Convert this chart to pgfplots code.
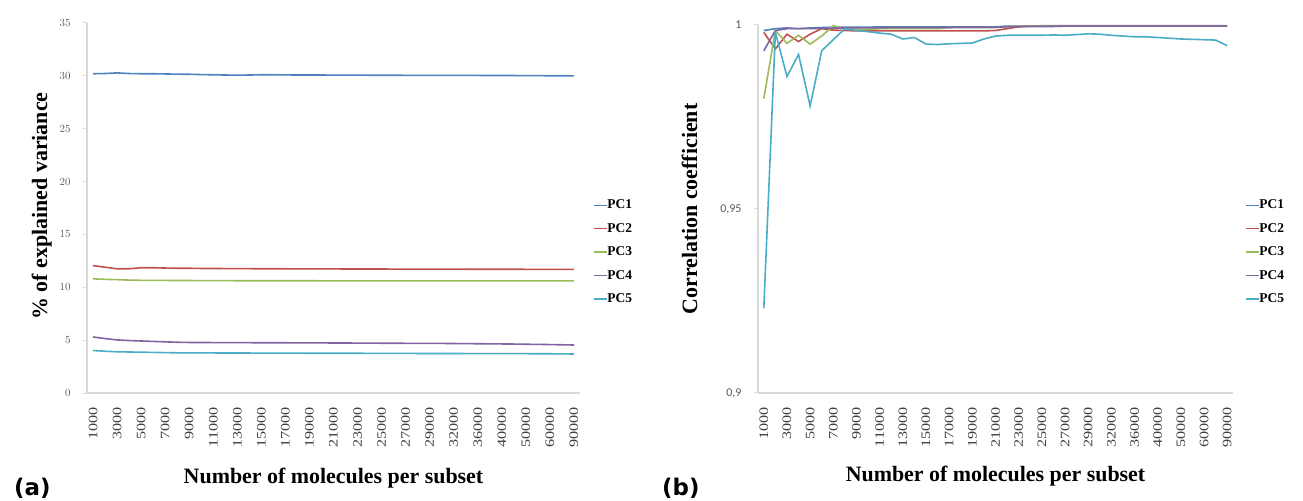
\documentclass[border=0pt]{standalone}
\usepackage{fontspec}
\setmainfont{Liberation Serif}
\newfontfamily\carlito{Carlito}
\newfontfamily\dejavu{DejaVu Sans}
\usepackage{graphicx}
\usepackage{pgfplots}
\usepackage{pgfplotstable}
\pgfplotsset{compat=1.18}

\definecolor{c1}{HTML}{4F81BD}
\definecolor{c2}{HTML}{C0504D}
\definecolor{c3}{HTML}{9BBB59}
\definecolor{c4}{HTML}{8064A2}
\definecolor{c5}{HTML}{4BACC6}
\definecolor{axgray}{HTML}{D9D9D9}
\definecolor{tkgray}{HTML}{595959}
\definecolor{xkgray}{HTML}{404040}

\newcommand{\xl}[1]{\scalebox{1.25}[1]{#1}}

% explained variance (%)
\pgfplotstableread{
i pc1 pc2 pc3 pc4 pc5
0 30.20 12.05 10.80 5.30 4.02
1 30.22 11.90 10.75 5.15 3.95
2 30.28 11.75 10.72 5.02 3.90
3 30.22 11.75 10.68 4.96 3.88
4 30.20 11.85 10.66 4.92 3.86
5 30.20 11.85 10.65 4.88 3.84
6 30.18 11.82 10.65 4.84 3.82
7 30.16 11.80 10.64 4.80 3.80
8 30.15 11.80 10.64 4.78 3.80
9 30.12 11.78 10.63 4.78 3.79
10 30.10 11.78 10.63 4.77 3.79
11 30.08 11.77 10.63 4.77 3.78
12 30.06 11.76 10.62 4.76 3.78
13 30.08 11.76 10.62 4.76 3.78
14 30.10 11.75 10.62 4.75 3.77
15 30.10 11.75 10.62 4.75 3.77
16 30.09 11.75 10.62 4.75 3.77
17 30.08 11.74 10.62 4.74 3.77
18 30.08 11.74 10.62 4.74 3.76
19 30.08 11.74 10.61 4.74 3.76
20 30.07 11.74 10.61 4.73 3.76
21 30.07 11.73 10.61 4.73 3.76
22 30.07 11.73 10.61 4.72 3.76
23 30.06 11.73 10.61 4.72 3.75
24 30.06 11.73 10.61 4.71 3.75
25 30.06 11.72 10.61 4.71 3.75
26 30.05 11.72 10.61 4.70 3.75
27 30.05 11.72 10.61 4.70 3.74
28 30.05 11.72 10.61 4.69 3.74
29 30.05 11.72 10.61 4.69 3.74
30 30.04 11.72 10.60 4.68 3.74
31 30.04 11.71 10.60 4.67 3.73
32 30.04 11.71 10.60 4.66 3.73
33 30.03 11.71 10.60 4.65 3.73
34 30.03 11.71 10.60 4.64 3.72
35 30.03 11.71 10.60 4.63 3.72
36 30.02 11.70 10.60 4.61 3.72
37 30.02 11.70 10.60 4.60 3.71
38 30.01 11.70 10.60 4.58 3.71
39 30.01 11.70 10.60 4.56 3.70
40 30.00 11.70 10.60 4.54 3.69
}\vartable

% correlation coefficient
\pgfplotstableread{
i pc1 pc2 pc3 pc4 pc5
0 0.9985 0.9980 0.9800 0.9930 0.9230
1 0.9990 0.9935 0.9985 0.9985 0.9980
2 0.9992 0.9975 0.9950 0.9990 0.9860
3 0.9990 0.9955 0.9972 0.9990 0.9920
4 0.9992 0.9975 0.9948 0.9990 0.9780
5 0.9993 0.9990 0.9970 0.9991 0.9930
6 0.9994 0.9986 0.9998 0.9991 0.9960
7 0.9994 0.9985 0.9990 0.9992 0.9990
8 0.9994 0.9984 0.9988 0.9992 0.9985
9 0.9994 0.9984 0.9988 0.9992 0.9982
10 0.9995 0.9984 0.9990 0.9992 0.9978
11 0.9995 0.9984 0.9990 0.9993 0.9975
12 0.9995 0.9984 0.9990 0.9993 0.9962
13 0.9995 0.9984 0.9990 0.9993 0.9966
14 0.9995 0.9984 0.9990 0.9993 0.9948
15 0.9995 0.9984 0.9990 0.9993 0.9947
16 0.9995 0.9984 0.9993 0.9993 0.9949
17 0.9995 0.9984 0.9993 0.9994 0.9950
18 0.9995 0.9984 0.9993 0.9994 0.9951
19 0.9995 0.9984 0.9993 0.9994 0.9962
20 0.9995 0.9985 0.9993 0.9994 0.9970
21 0.9997 0.9990 0.9996 0.9995 0.9972
22 0.9997 0.9995 0.9997 0.9996 0.9972
23 0.9997 0.9997 0.9997 0.9996 0.9972
24 0.9998 0.9997 0.9997 0.9996 0.9972
25 0.9998 0.9997 0.9997 0.9996 0.9973
26 0.9998 0.9997 0.9997 0.9997 0.9972
27 0.9998 0.9997 0.9997 0.9997 0.9974
28 0.9998 0.9997 0.9997 0.9997 0.9976
29 0.9998 0.9997 0.9997 0.9997 0.9975
30 0.9998 0.9997 0.9997 0.9997 0.9972
31 0.9998 0.9997 0.9997 0.9997 0.9970
32 0.9998 0.9997 0.9997 0.9997 0.9968
33 0.9998 0.9997 0.9997 0.9997 0.9968
34 0.9998 0.9997 0.9997 0.9997 0.9966
35 0.9998 0.9997 0.9997 0.9997 0.9964
36 0.9998 0.9997 0.9997 0.9997 0.9962
37 0.9998 0.9997 0.9997 0.9997 0.9961
38 0.9998 0.9997 0.9997 0.9997 0.9960
39 0.9998 0.9997 0.9997 0.9997 0.9959
40 0.9998 0.9997 0.9997 0.9997 0.9944
}\cortable

\pgfplotsset{
  exstyle/.style={
    scale only axis, anchor=south west, clip=false,
    xmin=-0.5, xmax=40.5,
    axis x line*=bottom, axis y line*=left,
    axis line style={axgray, line width=1.4bp},
    xtick={0,2,...,40},
    xticklabels={\xl{1000},\xl{3000},\xl{5000},\xl{7000},\xl{9000},\xl{11000},\xl{13000},\xl{15000},\xl{17000},\xl{19000},\xl{21000},\xl{23000},\xl{25000},\xl{27000},\xl{29000},\xl{32000},\xl{36000},\xl{40000},\xl{50000},\xl{60000},\xl{90000}},
    x tick label style={rotate=90, anchor=east, font=\fontsize{13}{13}\selectfont, text=xkgray, xshift=-7bp},
    major x tick style={draw=none},
    y tick label style={text=tkgray, xshift=-9bp},
    major y tick style={axgray, line width=1bp},
    tick align=outside, major tick length=4bp,
    every axis plot/.append style={line width=1.6bp, mark=none},
    legend cell align=left,
    legend image code/.code={\draw[#1, line width=1.4bp] (0bp,0bp) -- (13bp,0bp);},
    legend style={draw=none, fill=none, inner sep=0pt, row sep=13bp,
      font=\bfseries\fontsize{13.5}{13.5}\selectfont,
      nodes={inner sep=0pt},
      /tikz/every even column/.append style={column sep=6bp}},
  }
}

\begin{document}
\begin{tikzpicture}
\path[use as bounding box] (0,0) rectangle (1303bp,501bp);

\begin{axis}[exstyle,
  at={(87bp,108bp)}, width=493bp, height=370bp,
  ymin=0, ymax=35, ytick={0,5,...,35},
  y tick label style={font=\fontsize{11}{11}\selectfont},
  legend style={at={(1.026,0.381)}, anchor=west}]
\addplot[c1] table[x=i, y=pc1] {\vartable};
\addplot[c2] table[x=i, y=pc2] {\vartable};
\addplot[c3] table[x=i, y=pc3] {\vartable};
\addplot[c4] table[x=i, y=pc4] {\vartable};
\addplot[c5] table[x=i, y=pc5] {\vartable};
\legend{PC1,PC2,PC3,PC4,PC5}
\end{axis}

\begin{axis}[exstyle,
  at={(758bp,108bp)}, width=475bp, height=368bp,
  ymin=0.9, ymax=1, ytick={0.9,0.95,1}, yticklabels={{0,9},{0,95},1},
  y tick label style={font=\carlito\fontsize{12}{12}\selectfont},
  legend style={at={(1.025,0.383)}, anchor=west}]
\addplot[c1] table[x=i, y=pc1] {\cortable};
\addplot[c2] table[x=i, y=pc2] {\cortable};
\addplot[c3] table[x=i, y=pc3] {\cortable};
\addplot[c4] table[x=i, y=pc4] {\cortable};
\addplot[c5] table[x=i, y=pc5] {\cortable};
\legend{PC1,PC2,PC3,PC4,PC5}
\end{axis}

\node[rotate=90, anchor=base, font=\bfseries\fontsize{22}{22}\selectfont] at (47bp,295bp) {\% of explained variance};
\node[rotate=90, anchor=base, font=\bfseries\fontsize{22}{22}\selectfont] at (697bp,292bp) {Correlation coefficient};
\node[anchor=base, font=\bfseries\fontsize{22}{22}\selectfont] at (333.5bp,18bp) {Number of molecules per subset};
\node[anchor=base, font=\bfseries\fontsize{22}{22}\selectfont] at (995.5bp,20bp) {Number of molecules per subset};
\node[anchor=base west, inner sep=0pt, font=\dejavu\bfseries\fontsize{23}{23}\selectfont] at (14bp,6bp) {(a)};
\node[anchor=base west, inner sep=0pt, font=\dejavu\bfseries\fontsize{23}{23}\selectfont] at (662bp,6bp) {(b)};
\end{tikzpicture}
\end{document}
